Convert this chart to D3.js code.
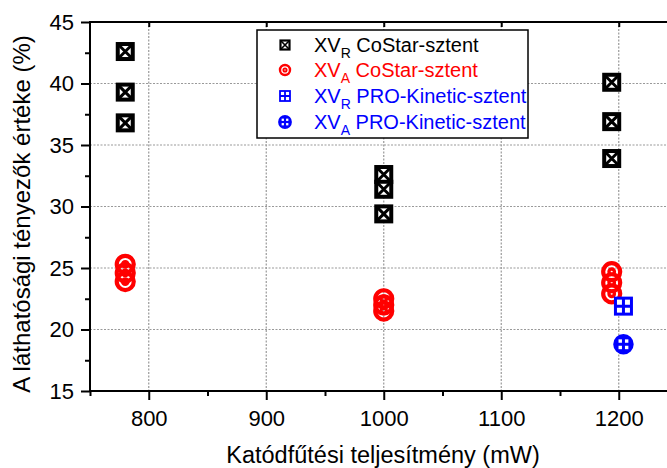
<!DOCTYPE html>
<html><head><meta charset="utf-8">
<script src="https://cdn.jsdelivr.net/npm/d3@7"></script>
<style>body{margin:0;background:#fff}svg{display:block}text{font-family:"Liberation Sans",Arial,sans-serif}</style>
</head><body>
<svg id="c" width="667" height="468"></svg>
<script>
// data
const xvrCoStarX = [780,780,780,1000,1000,1000,1194,1194,1194];
const xvrCoStarY = [42.6,39.3,36.8,32.6,31.4,29.4,40.1,36.9,33.9];
const xvaCoStarX = [780,780,780,1000,1000,1000,1194,1194,1194];
const xvaCoStarY = [25.3,24.6,23.9,22.5,22.0,21.5,24.7,23.8,22.9];
const xvrProX = [1204];
const xvrProY = [21.9];
const xvaProX = [1204];
const xvaProY = [18.8];
const xTicks = [800,900,1000,1100,1200];
const yTicks = [15,20,25,30,35,40,45];
const seriesNames = ["CoStar-sztent","CoStar-sztent","PRO-Kinetic-sztent","PRO-Kinetic-sztent"];
const seriesSubs = ["R","A","R","A"];
const colors = ["#000","#ff0000","#0000ff","#0000ff"];

const svg = d3.select("#c");
const L=90,T=22,B=391;
const x = d3.scaleLinear().domain([750,1250]).range([L, L+500*1.175]);
const y = d3.scaleLinear().domain([15,45]).range([B,T]);
const R = x(1250);

// grid
const g = svg.append("g");
g.selectAll(".gx").data(xTicks).enter().append("line")
 .attr("x1",d=>x(d)).attr("x2",d=>x(d)).attr("y1",T).attr("y2",B)
 .attr("stroke","#999").attr("stroke-width",1.2).attr("stroke-dasharray","2,1.5");
g.selectAll(".gy").data(yTicks.filter(v=>v>15&&v<45)).enter().append("line")
 .attr("x1",L).attr("x2",R).attr("y1",d=>y(d)).attr("y2",d=>y(d))
 .attr("stroke","#999").attr("stroke-width",1.2).attr("stroke-dasharray","2,1.5");

// axes
const xAxis = d3.axisBottom(x).tickValues(xTicks).tickSize(9).tickPadding(10).tickFormat(d3.format("d"));
const xMinor = d3.axisBottom(x).tickValues(d3.range(750,1251,50).filter(v=>v%100!==0)).tickSize(5).tickFormat("");
const yAxis = d3.axisLeft(y).tickValues(yTicks).tickSize(9).tickPadding(7).tickFormat(d3.format("d"));
const yMinor = d3.axisLeft(y).tickValues(d3.range(17.5,45,5)).tickSize(5).tickFormat("");
const xTop = d3.axisTop(x).tickValues(xTicks).tickSize(-5).tickFormat("");

function style(sel){
  sel.select(".domain").attr("stroke","#000").attr("stroke-width",2);
  sel.selectAll(".tick line").attr("stroke","#000").attr("stroke-width",2);
  sel.selectAll("text").attr("font-size",22).attr("fill","#000").attr("font-family","'Liberation Sans',Arial,sans-serif");
}
svg.append("g").attr("transform",`translate(0,${B})`).call(xMinor).call(style).select(".domain").remove();
svg.append("g").attr("transform",`translate(0,${B})`).call(xAxis).call(style);
svg.append("g").attr("transform",`translate(${L},0)`).call(yMinor).call(style).select(".domain").remove();
svg.append("g").attr("transform",`translate(${L},0)`).call(yAxis).call(style);
svg.append("g").attr("transform",`translate(0,${T})`).call(xTop).call(style);
svg.selectAll(".domain").attr("d",null);
svg.append("line").attr("x1",L).attr("x2",R).attr("y1",B).attr("y2",B).attr("stroke","#000").attr("stroke-width",2);
svg.append("line").attr("x1",L).attr("x2",R).attr("y1",T).attr("y2",T).attr("stroke","#000").attr("stroke-width",2);
svg.append("line").attr("x1",L).attr("x2",L).attr("y1",T-1).attr("y2",B+1).attr("stroke","#000").attr("stroke-width",2);

// markers
function sqX(sel,s,c,w){ // square with X
  const h=s/2;
  sel.append("rect").attr("x",-h).attr("y",-h).attr("width",s).attr("height",s).attr("fill","#fff").attr("stroke",c).attr("stroke-width",w);
  sel.append("path").attr("d",`M${-h},${-h}L${h},${h}M${-h},${h}L${h},${-h}`).attr("stroke",c).attr("stroke-width",w*0.75);
}
function cDot(sel,r,c,w){
  sel.append("circle").attr("r",r).attr("fill","#fff").attr("fill-opacity",0).attr("stroke",c).attr("stroke-width",w);
  sel.append("circle").attr("r",r*0.32).attr("fill","none").attr("stroke",c).attr("stroke-width",w*0.8);
}
function sqPlus(sel,s,c,w){
  const h=s/2;
  sel.append("rect").attr("x",-h).attr("y",-h).attr("width",s).attr("height",s).attr("fill","#fff").attr("stroke",c).attr("stroke-width",w);
  sel.append("path").attr("d",`M0,${-h}L0,${h}M${-h},0L${h},0`).attr("stroke",c).attr("stroke-width",w);
}
function cPlus(sel,r,c,w){
  sel.append("circle").attr("r",r).attr("fill",c).attr("stroke",c).attr("stroke-width",w);
  const q=r*0.38;
  [[1,1],[1,-1],[-1,1],[-1,-1]].forEach(([a,b])=>{
    sel.append("rect").attr("x",a>0?w*0.6:-w*0.6-q).attr("y",b>0?w*0.6:-w*0.6-q).attr("width",q).attr("height",q).attr("fill","#fff");
  });
}

const pts = [
  {xs:xvaCoStarX, ys:xvaCoStarY, f:(s)=>cDot(s,8.5,colors[1],4.2)},
  {xs:xvrCoStarX, ys:xvrCoStarY, f:(s)=>sqX(s,15,colors[0],4)},
  {xs:xvrProX, ys:xvrProY, f:(s)=>sqPlus(s,16,colors[2],3)},
  {xs:xvaProX, ys:xvaProY, f:(s)=>cPlus(s,9,colors[3],2.5)}
];
pts.forEach(p=>{
  p.xs.forEach((xv,i)=>{
    const gg = svg.append("g").attr("transform",`translate(${x(xv)},${y(p.ys[i])})`);
    p.f(gg);
  });
});

// legend
const lg = svg.append("g");
lg.append("rect").attr("x",257).attr("y",30).attr("width",271).attr("height",108).attr("fill","#fff").attr("stroke","#000").attr("stroke-width",1.5);
const rowsY=[45,70,96,122];
const lf=[(s)=>sqX(s,9,colors[0],2.2),(s)=>cDot(s,5,colors[1],2.4),(s)=>sqPlus(s,10,colors[2],1.8),(s)=>cPlus(s,6,colors[3],1.8)];
rowsY.forEach((ry,i)=>{
  const m = lg.append("g").attr("transform",`translate(285,${ry})`);
  lf[i](m);
  const t = lg.append("text").attr("x",314).attr("y",ry+7).attr("font-size",20).attr("fill",colors[i]);
  t.append("tspan").text("XV");
  t.append("tspan").attr("font-size",14).attr("dy",6).text(seriesSubs[i]);
  t.append("tspan").attr("dy",-6).text(" "+seriesNames[i]);
});

// labels
svg.append("text").attr("x",383).attr("y",463).attr("text-anchor","middle").attr("font-size",23.5).text("Katódfűtési teljesítmény (mW)");
svg.append("text").attr("transform",`translate(30,214) rotate(-90)`).attr("text-anchor","middle").attr("font-size",24).text("A láthatósági tényezők értéke (%)");
</script>
</body></html>
